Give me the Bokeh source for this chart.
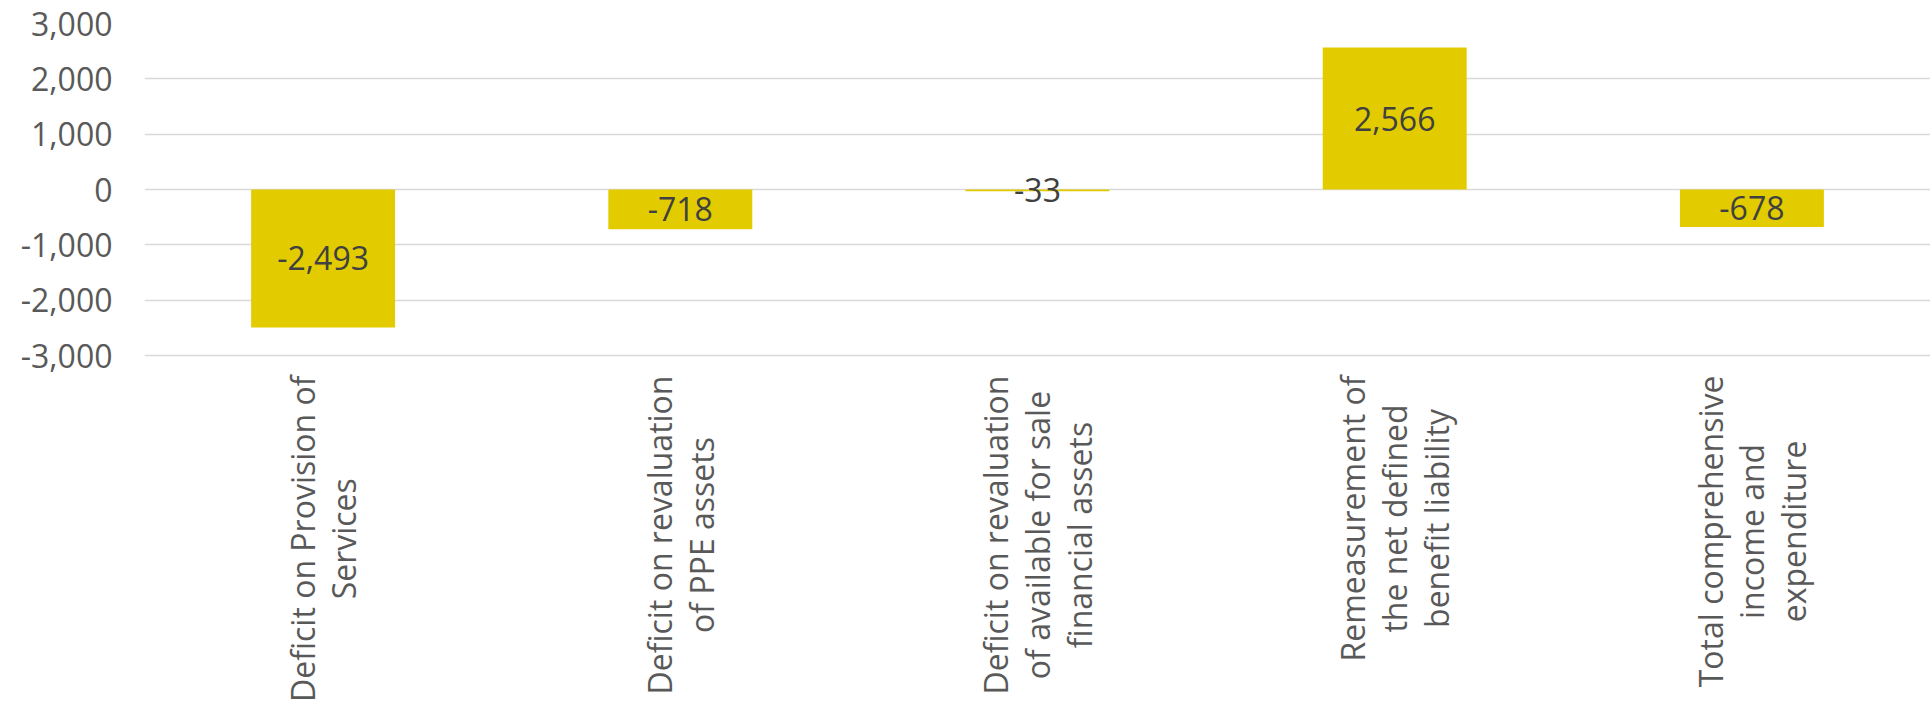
import math
from bokeh.plotting import figure
from bokeh.models import FactorRange, Range1d, FixedTicker, NumeralTickFormatter, ColumnDataSource, Label
from bokeh.embed import file_html
from bokeh.resources import INLINE
from bokeh.core.properties import value

categories = [
    "Deficit on Provision of\nServices",
    "Deficit on revaluation\nof PPE assets",
    "Deficit on revaluation\nof available for sale\nfinancial assets",
    "Remeasurement of\nthe net defined\nbenefit liability",
    "Total comprehensive\nincome and\nexpenditure",
]
values = [-2493, -718, -33, 2566, -678]
value_labels = ["-2,493", "-718", "-33", "2,566", "-678"]
y_ticks = [-3000, -2000, -1000, 0, 1000, 2000, 3000]

FONT = "Open Sans"
FS = "32px"

W, H = 1930, 703
TOP, LEFT = 23, 144
AXIS_BOTTOM_PX = 355          # page y of the -3000 gridline
PX_PER_UNIT = (AXIS_BOTTOM_PX - TOP) / (y_ticks[-1] - y_ticks[0])
y_lo = y_ticks[0] - (H - AXIS_BOTTOM_PX) / PX_PER_UNIT   # frame continues down to hold the labels

src = ColumnDataSource(dict(
    cat=categories,
    val=values,
    mid=[v / 2 for v in values],
    lab=value_labels,
))

p = figure(
    width=W, height=H,
    x_range=FactorRange(factors=categories, range_padding=0),
    y_range=Range1d(y_lo, y_ticks[-1]),
    output_backend="svg", toolbar_location=None,
    min_border_left=LEFT, min_border_right=0,
    min_border_top=TOP, min_border_bottom=0,
)
p.outline_line_color = None
p.background_fill_color = "white"
p.border_fill_color = "white"

p.vbar(x="cat", top="val", bottom=0, width=0.403, source=src,
       fill_color="#E2CC00", line_color=None)
p.text(x="cat", y="mid", text="lab", source=src,
       text_align="center", text_baseline="middle",
       text_font=value(FONT), text_font_size=FS, text_color="#404040")

p.xgrid.grid_line_color = None
p.ygrid.grid_line_color = "#D9D9D9"
p.ygrid.grid_line_width = 1.5
p.yaxis.ticker = FixedTicker(ticks=y_ticks)
p.yaxis.formatter = NumeralTickFormatter(format="0,0")
p.yaxis.axis_line_color = None
p.yaxis.major_tick_line_color = None
p.yaxis.minor_tick_line_color = None
p.yaxis.major_label_text_font = FONT
p.yaxis.major_label_text_font_size = FS
p.yaxis.major_label_text_color = "#595959"
p.yaxis.major_label_standoff = 26
p.xaxis.visible = False

# category labels: centred multi-line text, reading upwards, ending 20px below the axis
for i, cat in enumerate(categories):
    p.add_layout(Label(
        x=i + 0.5, y=H - AXIS_BOTTOM_PX - 20, x_units="data", y_units="screen",
        text=cat, angle=math.pi / 2,
        anchor="center_right", text_align="center",
        text_font=FONT, text_font_size=FS, text_color="#595959",
        text_line_height=0.97,
    ))

open("out.html", "w").write(file_html(p, INLINE))
